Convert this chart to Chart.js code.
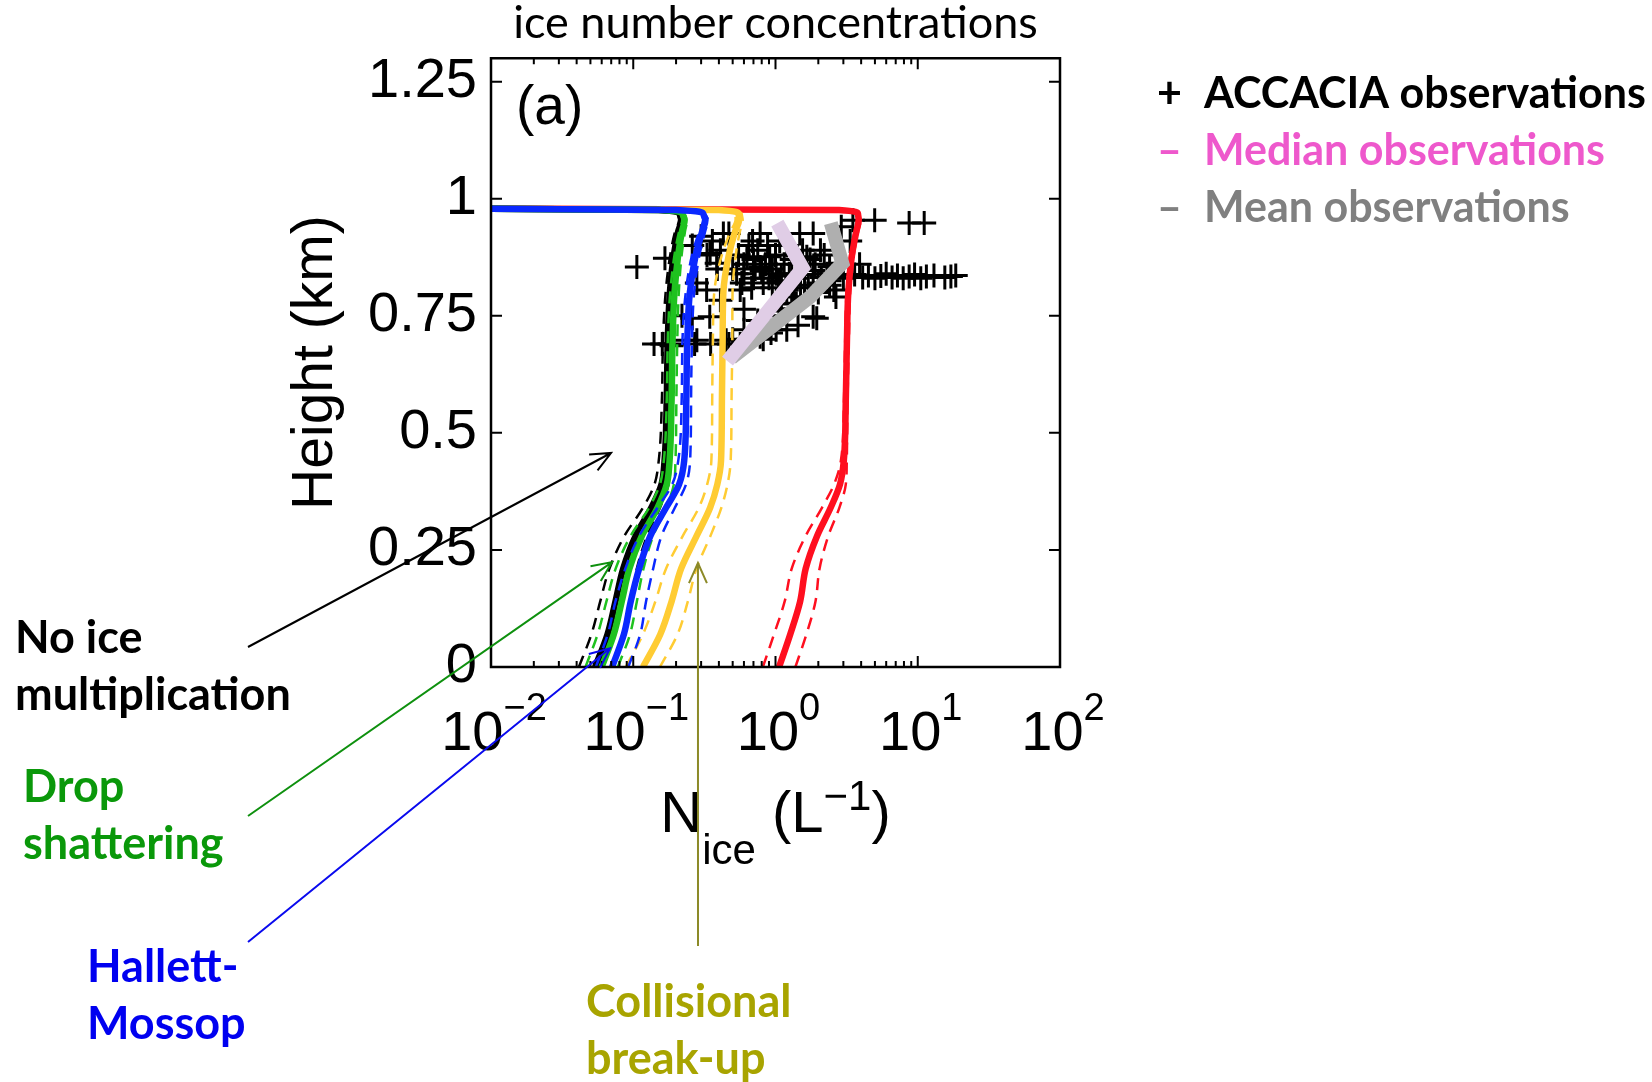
<!DOCTYPE html>
<html>
<head>
<meta charset="utf-8">
<script src="https://cdn.jsdelivr.net/npm/chart.js@4.4.1/dist/chart.umd.min.js"></script>
<style>
  html, body { margin: 0; padding: 0; background: #fff; }
  #wrap { width: 1652px; height: 1082px; position: relative; }
</style>
</head>
<body>
<div id="wrap"><canvas id="iceChart"></canvas></div>
<script>
// axis ticks
const xTicks = [0.01, 0.1, 1, 10, 100];
const yTicks = [0, 0.25, 0.5, 0.75, 1, 1.25];

// heights (km) shared by all model profiles
const modelHeights = [0, 0.07, 0.14, 0.21, 0.28, 0.34, 0.39, 0.44, 0.57, 0.70, 0.80, 0.88, 0.93, 0.955, 0.968, 0.976, 0.98];

// model N_ice (L^-1): central run, lower and upper dashed bounds
const noMultMid = [0.054, 0.066, 0.075, 0.085, 0.104, 0.134, 0.158, 0.166, 0.172, 0.175, 0.181, 0.193, 0.207, 0.218, 0.212, 0.15, 0.001];
const noMultLo  = [0.0415, 0.0508, 0.0586, 0.068, 0.0867, 0.117, 0.141, 0.151, 0.159, 0.162, 0.169, 0.182, 0.197, 0.210, 0.206, 0.146, 0.001];
const noMultHi  = [0.0702, 0.0858, 0.096, 0.106, 0.125, 0.154, 0.177, 0.183, 0.186, 0.189, 0.194, 0.205, 0.217, 0.227, 0.218, 0.155, 0.001];

const dropMid = [0.060, 0.073, 0.083, 0.094, 0.115, 0.148, 0.172, 0.180, 0.186, 0.189, 0.195, 0.207, 0.220, 0.230, 0.222, 0.16, 0.001];
const dropLo  = [0.0462, 0.0562, 0.0648, 0.0752, 0.0958, 0.129, 0.154, 0.164, 0.172, 0.175, 0.182, 0.195, 0.210, 0.221, 0.216, 0.155, 0.001];
const dropHi  = [0.078, 0.0949, 0.106, 0.118, 0.138, 0.170, 0.193, 0.198, 0.201, 0.204, 0.209, 0.219, 0.231, 0.239, 0.229, 0.165, 0.001];

const hmMid = [0.071, 0.086, 0.096, 0.110, 0.132, 0.170, 0.210, 0.228, 0.236, 0.240, 0.250, 0.275, 0.305, 0.322, 0.31, 0.2, 0.001];
const hmLo  = [0.0546, 0.0662, 0.075, 0.088, 0.110, 0.148, 0.188, 0.207, 0.219, 0.222, 0.234, 0.259, 0.291, 0.310, 0.301, 0.194, 0.001];
const hmHi  = [0.0923, 0.112, 0.123, 0.138, 0.158, 0.196, 0.235, 0.251, 0.255, 0.259, 0.268, 0.292, 0.320, 0.335, 0.319, 0.206, 0.001];

const collMid = [0.117, 0.155, 0.186, 0.217, 0.279, 0.347, 0.39, 0.414, 0.42, 0.425, 0.43, 0.47, 0.52, 0.555, 0.55, 0.4, 0.001];
const collLo  = [0.0886, 0.117, 0.143, 0.170, 0.223, 0.289, 0.331, 0.354, 0.359, 0.363, 0.371, 0.420, 0.482, 0.524, 0.524, 0.385, 0.001];
const collHi  = [0.154, 0.205, 0.242, 0.278, 0.349, 0.416, 0.460, 0.484, 0.491, 0.497, 0.499, 0.526, 0.562, 0.588, 0.578, 0.416, 0.001];

const redMid = [1.06, 1.27, 1.49, 1.63, 1.96, 2.44, 2.84, 3.02, 3.12, 3.18, 3.25, 3.45, 3.70, 3.85, 3.80, 2.8, 0.001];
const redLo  = [0.815, 0.977, 1.16, 1.30, 1.63, 2.12, 2.58, 2.88, 3.03, 3.09, 3.16, 3.35, 3.59, 3.74, 3.73, 2.75, 0.001];
const redHi  = [1.38, 1.65, 1.91, 2.04, 2.35, 2.81, 3.12, 3.17, 3.21, 3.28, 3.35, 3.55, 3.81, 3.97, 3.88, 2.86, 0.001];

// observed median and mean profiles
const medianN = [1.03, 1.55, 0.46];
const medianHeight = [0.948, 0.852, 0.653];
const meanN = [2.45, 2.95, 1.75, 0.49];
const meanHeight = [0.948, 0.862, 0.79, 0.66];

// ACCACIA observations (N_ice, height)
const obsN = [
  4.98, 8.7, 11.1, 3.5, 2.9, 3.35,
  1.48, 1.84, 1.07, 0.78, 0.47, 0.43, 0.69, 2.07, 0.41, 0.347, 0.63, 0.91, 1.66, 0.167, 0.386, 2.85, 3.9, 0.106,
  0.78, 0.39, 1.84, 0.533, 1.01, 2.3, 0.82, 0.328, 0.565, 1.2, 2.57, 2.66, 0.41, 1.35, 1.4, 1.06, 1.84, 1.95,
  0.345, 0.6, 1.44, 1.2, 1.01, 0.93, 0.78, 0.64, 0.82, 0.565, 0.45, 0.47, 0.35, 0.28, 0.27, 0.237, 0.186, 0.18, 0.16, 0.14,
  0.6, 0.7, 0.8, 0.9, 1.1, 1.25, 1.4, 1.6, 2.1, 2.6, 3.0, 3.6, 4.1, 4.5, 5.0, 5.5, 6.0, 6.6, 7.2, 7.9, 8.7, 9.5,
  10.5, 11.5, 13, 15.5, 17.1, 18.5,
  0.55, 0.6, 0.65, 0.7, 0.72, 0.75, 0.85, 0.88, 0.95, 1.0, 1.15, 1.2, 1.3, 1.45, 1.55, 1.75, 1.9, 2.2, 2.4, 0.5,
  0.58, 0.68, 0.95, 1.05, 1.5, 1.7, 2.0, 2.4,
  0.5, 0.6, 0.75, 0.9, 1.1, 1.3, 1.6, 2.0, 2.4,
  0.22, 0.26, 0.28, 0.26, 0.3, 0.33, 0.36
];
const obsHeight = [
  0.954, 0.948, 0.948, 0.954, 0.94, 0.91,
  0.926, 0.926, 0.91, 0.926, 0.926, 0.926, 0.91, 0.89, 0.89, 0.883, 0.876, 0.876, 0.876, 0.873, 0.862, 0.862, 0.86, 0.854,
  0.854, 0.85, 0.847, 0.84, 0.84, 0.84, 0.82, 0.805, 0.805, 0.805, 0.805, 0.79, 0.783, 0.79, 0.777, 0.76, 0.748, 0.745,
  0.748, 0.764, 0.73, 0.72, 0.72, 0.713, 0.705, 0.70, 0.70, 0.69, 0.698, 0.69, 0.69, 0.698, 0.69, 0.698, 0.686, 0.69, 0.69, 0.69,
  0.84, 0.83, 0.845, 0.83, 0.835, 0.84, 0.83, 0.838, 0.832, 0.836, 0.83, 0.838, 0.832, 0.836, 0.83, 0.835, 0.84, 0.832, 0.836, 0.83, 0.834, 0.838,
  0.83, 0.834, 0.836, 0.832, 0.834, 0.836,
  0.88, 0.86, 0.9, 0.87, 0.85, 0.89, 0.86, 0.9, 0.85, 0.88, 0.86, 0.9, 0.87, 0.86, 0.89, 0.87, 0.86, 0.88, 0.855, 0.85,
  0.82, 0.81, 0.81, 0.825, 0.815, 0.81, 0.82, 0.825,
  0.70, 0.72, 0.74, 0.75, 0.765, 0.775, 0.79, 0.80, 0.815,
  0.75, 0.745, 0.82, 0.9, 0.92, 0.88, 0.91
];

const tickFamily = '"Liberation Sans", Arial, sans-serif';
const textFamily = 'Lato, "Noto Sans", sans-serif';

const pts = (xs, ys) => xs.map((v, i) => ({ x: v, y: ys[i] }));

function profile(xs, color, dashed, order) {
  return {
    data: pts(xs, modelHeights),
    borderColor: color,
    borderWidth: dashed ? 2.5 : 6.5,
    borderDash: dashed ? [12, 8] : [],
    pointRadius: 0,
    cubicInterpolationMode: 'monotone',
    order: order
  };
}

function drawArrow(ctx, x0, y0, x1, y1, color) {
  const ang = Math.atan2(y1 - y0, x1 - x0);
  const len = 22, spread = 0.42;
  ctx.strokeStyle = color;
  ctx.lineWidth = 2;
  ctx.beginPath();
  ctx.moveTo(x0, y0);
  ctx.lineTo(x1, y1);
  ctx.moveTo(x1 - len * Math.cos(ang - spread), y1 - len * Math.sin(ang - spread));
  ctx.lineTo(x1, y1);
  ctx.lineTo(x1 - len * Math.cos(ang + spread), y1 - len * Math.sin(ang + spread));
  ctx.stroke();
}

// labelled arrows pointing at the curves
const annotations = [
  { lines: ['No ice', 'multiplication'], color: '#000000', arrow: '#000000', tx: 15, ty: 653, from: [248, 647], to: [0.0698, 0.457] },
  { lines: ['Drop', 'shattering'], color: '#0a980a', arrow: '#0e900e', tx: 23, ty: 802, from: [248, 816], to: [0.071, 0.224] },
  { lines: ['Hallett-', 'Mossop'], color: '#0000f0', arrow: '#0a0aee', tx: 87, ty: 982, from: [248, 942], to: [0.0687, 0.04] },
  { lines: ['Collisional', 'break-up'], color: '#a8a400', arrow: '#8c8a28', tx: 586, ty: 1017, from: [698, 946], to: [0.285, 0.222] }
];

const legendRows = [
  { mark: '+', text: 'ACCACIA observations', color: '#000000' },
  { mark: '\u2013', text: 'Median observations', color: '#ee58cc' },
  { mark: '\u2013', text: 'Mean observations', color: '#808080' }
];

const decorations = {
  id: 'decorations',
  afterDraw(chart) {
    const { ctx, chartArea: a, scales: { x, y } } = chart;
    ctx.save();

    // inward tick marks
    ctx.strokeStyle = '#000';
    ctx.lineWidth = 2;
    ctx.beginPath();
    yTicks.forEach(v => {
      const py = y.getPixelForValue(v);
      ctx.moveTo(a.left, py); ctx.lineTo(a.left + 11, py);
      ctx.moveTo(a.right, py); ctx.lineTo(a.right - 11, py);
    });
    xTicks.forEach(v => {
      const px = x.getPixelForValue(v);
      ctx.moveTo(px, a.bottom); ctx.lineTo(px, a.bottom - 11);
      ctx.moveTo(px, a.top); ctx.lineTo(px, a.top + 11);
    });
    [0.01, 0.1, 1].forEach(d => {
      for (let m = 2; m <= 9; m++) {
        const px = x.getPixelForValue(d * m);
        ctx.moveTo(px, a.bottom); ctx.lineTo(px, a.bottom - 6);
        ctx.moveTo(px, a.top); ctx.lineTo(px, a.top + 6);
      }
    });
    ctx.stroke();

    // box
    ctx.lineWidth = 2.5;
    ctx.strokeRect(a.left, a.top, a.right - a.left, a.bottom - a.top);

    // x tick labels 10^n
    ctx.fillStyle = '#000';
    ctx.textAlign = 'left';
    ctx.textBaseline = 'alphabetic';
    xTicks.forEach(v => {
      const e = Math.round(Math.log10(v));
      const exp = e < 0 ? '\u2212' + (-e) : String(e);
      ctx.font = '56px ' + tickFamily;
      const wb = ctx.measureText('10').width;
      ctx.font = '38px ' + tickFamily;
      const we = ctx.measureText(exp).width;
      const left = x.getPixelForValue(v) - (wb + we) / 2 + 3;
      ctx.font = '56px ' + tickFamily;
      ctx.fillText('10', left, a.bottom + 83);
      ctx.font = '38px ' + tickFamily;
      ctx.fillText(exp, left + wb, a.bottom + 53);
    });

    // x axis title N_ice (L^-1)
    const parts = [
      { t: 'N', size: 58, dy: 0 },
      { t: 'ice', size: 42, dy: 32 },
      { t: ' (L', size: 58, dy: 0 },
      { t: '\u22121', size: 42, dy: -22 },
      { t: ')', size: 58, dy: 0 }
    ];
    let total = 0;
    parts.forEach(p => { ctx.font = p.size + 'px ' + tickFamily; p.w = ctx.measureText(p.t).width; total += p.w; });
    let cx = (a.left + a.right) / 2 - total / 2;
    parts.forEach(p => {
      ctx.font = p.size + 'px ' + tickFamily;
      ctx.fillText(p.t, cx, a.bottom + 165 + p.dy);
      cx += p.w;
    });

    // panel label
    ctx.font = '55px ' + tickFamily;
    ctx.fillText('(a)', a.left + 25, a.top + 66);

    // legend on the right
    ctx.font = 'bold 43px ' + textFamily;
    legendRows.forEach((r, i) => {
      ctx.fillStyle = r.color;
      ctx.fillText(r.mark, 1157, 108 + i * 57);
      ctx.fillText(r.text, 1204, 108 + i * 57);
    });

    // annotations
    annotations.forEach(n => {
      drawArrow(ctx, n.from[0], n.from[1], x.getPixelForValue(n.to[0]), y.getPixelForValue(n.to[1]), n.arrow);
      ctx.fillStyle = n.color;
      ctx.font = 'bold 45px ' + textFamily;
      n.lines.forEach((s, i) => ctx.fillText(s, n.tx, n.ty + i * 57));
    });

    ctx.restore();
  }
};

const ctx = document.getElementById('iceChart').getContext('2d');
const iceChart = new Chart(ctx, {
  type: 'line',
  data: {
    datasets: [
      { data: pts(medianN, medianHeight), borderColor: '#e0cde6', borderWidth: 14, borderJoinStyle: 'miter', pointRadius: 0, tension: 0, order: 1 },
      { data: pts(meanN, meanHeight), borderColor: '#afafaf', borderWidth: 14, borderJoinStyle: 'miter', pointRadius: 0, tension: 0, order: 2 },
      profile(hmMid, '#0a28ff', false, 3),
      profile(hmLo, '#0a28ff', true, 4),
      profile(hmHi, '#0a28ff', true, 4),
      profile(dropMid, '#1fc21f', false, 5),
      profile(dropLo, '#1fc21f', true, 6),
      profile(dropHi, '#1fc21f', true, 6),
      profile(noMultMid, '#000000', false, 7),
      profile(noMultLo, '#000000', true, 8),
      profile(noMultHi, '#000000', true, 8),
      profile(collMid, '#ffcc33', false, 9),
      profile(collLo, '#ffcc33', true, 10),
      profile(collHi, '#ffcc33', true, 10),
      profile(redMid, '#ff0f1f', false, 11),
      profile(redLo, '#ff0f1f', true, 12),
      profile(redHi, '#ff0f1f', true, 12),
      {
        data: pts(obsN, obsHeight),
        showLine: false,
        pointStyle: 'cross',
        pointRadius: 12,
        pointBorderWidth: 3,
        pointBorderColor: '#000',
        borderColor: '#000',
        order: 20
      }
    ]
  },
  options: {
    indexAxis: 'y',
    responsive: true,
    maintainAspectRatio: false,
    animation: false,
    events: [],
    layout: { padding: { left: 250, right: 592, top: 0, bottom: 0 } },
    plugins: {
      legend: { display: false },
      tooltip: { enabled: false },
      title: {
        display: true,
        text: 'ice number concentrations',
        fullSize: false,
        color: '#000',
        font: { family: textFamily, size: 45, weight: 'normal', lineHeight: 1.05 },
        padding: { top: 0, bottom: 11 }
      }
    },
    scales: {
      x: {
        type: 'logarithmic',
        min: 0.01,
        max: 100,
        grid: { display: false, drawTicks: false },
        border: { display: false },
        ticks: { display: false },
        afterBuildTicks: s => { s.ticks = xTicks.map(v => ({ value: v })); },
        afterFit: s => { s.height = 415; }
      },
      y: {
        type: 'linear',
        min: 0,
        max: 1.3,
        grid: { display: false, drawTicks: false },
        border: { display: false },
        afterBuildTicks: s => { s.ticks = yTicks.map(v => ({ value: v })); },
        ticks: {
          autoSkip: false,
          color: '#000',
          padding: 14,
          font: { family: tickFamily, size: 56 },
          callback: v => String(v)
        },
        title: {
          display: true,
          text: 'Height (km)',
          color: '#000',
          font: { family: tickFamily, size: 57 },
          padding: { top: 32, bottom: 0 }
        },
        afterFit: s => { s.width = 241; }
      }
    }
  },
  plugins: [decorations]
});
</script>
</body>
</html>
